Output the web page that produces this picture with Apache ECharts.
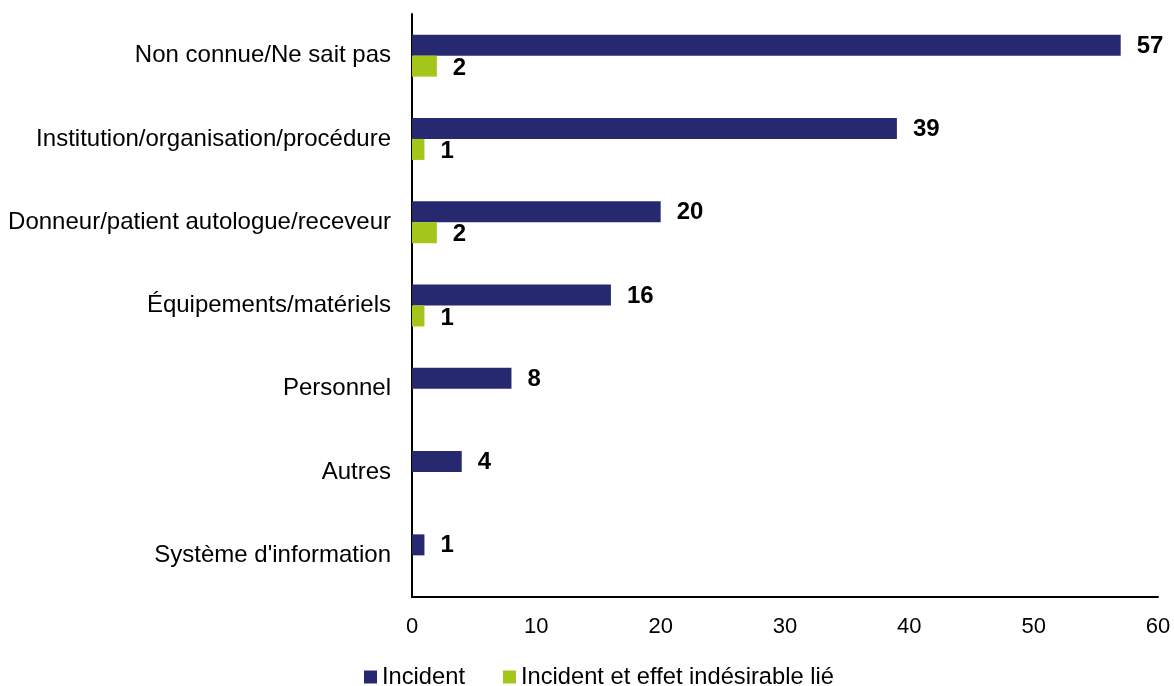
<!DOCTYPE html>
<html><head><meta charset="utf-8">
<script src="https://cdn.jsdelivr.net/npm/echarts@6/dist/echarts.min.js"></script>
<style>html,body{margin:0;padding:0;background:#fff}#c{width:1174px;height:686px}</style>
</head><body><div id="c"></div>
<script>
const categories = ["Non connue/Ne sait pas","Institution/organisation/procédure","Donneur/patient autologue/receveur","Équipements/matériels","Personnel","Autres","Système d'information"];
const incident = [57,39,20,16,8,4,1];
const incidentEffet = [2,1,2,1,null,null,null];
const xTicks = [0,10,20,30,40,50,60];
const font = "'Liberation Sans', Arial, sans-serif";
const chart = echarts.init(document.getElementById('c'));
const lbl = {show:true, position:'right', distance:16, color:'#000', fontWeight:'bold', fontSize:24, fontFamily:font};
chart.setOption({
  animation:false,
  grid:{left:412,right:16,top:14,bottom:89,containLabel:false},
  xAxis:{type:'value',min:xTicks[0],max:xTicks[xTicks.length-1],interval:10,
    axisLine:{show:true,lineStyle:{color:'#000',width:2}},axisTick:{show:false},splitLine:{show:false},
    axisLabel:{color:'#000',fontSize:22,fontFamily:font,margin:19}},
  yAxis:{type:'category',data:categories,inverse:true,
    axisLine:{show:true,lineStyle:{color:'#000',width:2}},axisTick:{show:false},
    axisLabel:{color:'#000',fontSize:24,fontFamily:font,margin:21}},
  legend:{top:660,left:359,itemWidth:13,itemHeight:13,itemGap:38,icon:'rect',
    textStyle:{color:'#000',fontSize:23.7,fontFamily:font}},
  series:[
    {name:'Incident',type:'bar',data:incident,barWidth:21,barGap:'0%',itemStyle:{color:'#262870'},label:Object.assign({},lbl,{offset:[0,1]})},
    {name:'Incident et effet indésirable lié',type:'bar',data:incidentEffet,barWidth:21,barGap:'0%',itemStyle:{color:'#a4c61a'},label:Object.assign({},lbl,{offset:[0,2]})}
  ]
});
</script></body></html>
